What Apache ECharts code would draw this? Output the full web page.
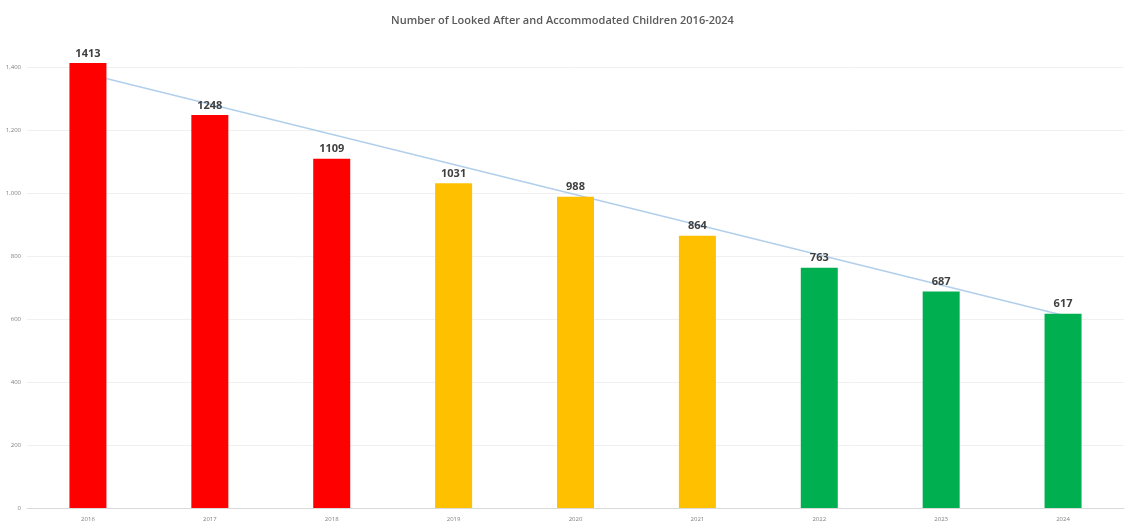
<!DOCTYPE html>
<html>
<head>
<meta charset="utf-8">
<script src="https://cdn.jsdelivr.net/npm/echarts@6/dist/echarts.min.js"></script>
<style>
  html, body { margin: 0; padding: 0; background: #fff; }
  #chart { width: 1125px; height: 529px; }
</style>
</head>
<body>
<div id="chart"></div>
<script>
// data
const years = ['2016', '2017', '2018', '2019', '2020', '2021', '2022', '2023', '2024'];
const children = [1413, 1248, 1109, 1031, 988, 864, 763, 687, 617];
const barColors = ['#ff0000', '#ff0000', '#ff0000', '#ffc000', '#ffc000', '#ffc000', '#00b050', '#00b050', '#00b050'];
// trendline end points (middle left empty, line joins them)
const trend = [1378, null, null, null, null, null, null, null, 612];
const yTicks = [0, 200, 400, 600, 800, 1000, 1200, 1400];

let chart = echarts.init(document.getElementById('chart'));

chart.setOption({
    animation: false,
    title: {
        text: 'Number of Looked After and Accommodated Children 2016-2024',
        left: 'center',
        top: 10,
        textStyle: { fontFamily: 'Open Sans', fontSize: 11, fontWeight: 600, color: '#595959' }
    },
    grid: { left: 27, right: 1, top: 67, bottom: 21 },
    xAxis: {
        type: 'category',
        data: years,
        axisTick: { show: false },
        axisLine: { lineStyle: { color: '#d9d9d9' } },
        axisLabel: { fontSize: 6, color: '#7f7f7f', margin: 8, fontFamily: 'Open Sans' }
    },
    yAxis: {
        type: 'value',
        min: yTicks[0],
        max: yTicks[yTicks.length - 1],
        interval: 200,
        axisLabel: { fontSize: 6, color: '#7f7f7f', margin: 6, fontFamily: 'Open Sans' },
        splitLine: { lineStyle: { color: '#f0f0f0' } }
    },
    series: [
        {
            type: 'bar',
            data: children.map((v, i) => ({ value: v, itemStyle: { color: barColors[i] } })),
            barWidth: 37,
            clip: false,
            label: {
                show: true,
                position: 'top',
                distance: 4,
                fontSize: 11,
                fontWeight: 'bold',
                color: '#404040',
                fontFamily: 'Open Sans'
            }
        },
        {
            type: 'line',
            data: trend,
            connectNulls: true,
            clip: false,
            symbol: 'none',
            lineStyle: { color: '#9dc3e6', width: 1.5, opacity: 0.8 },
            z: 1
        }
    ]
});
</script>
</body>
</html>
